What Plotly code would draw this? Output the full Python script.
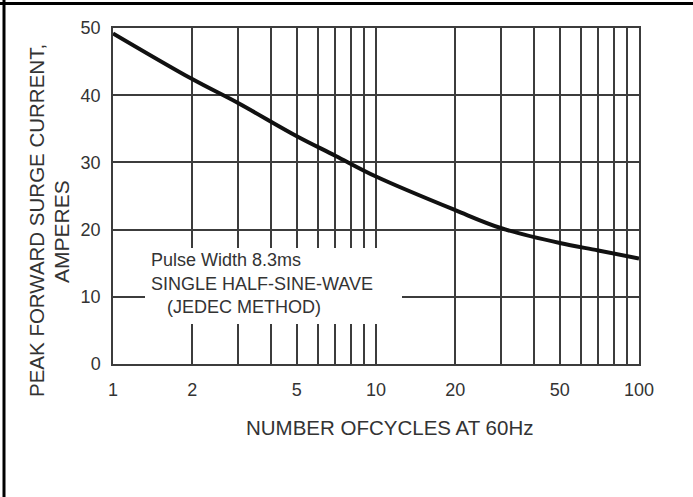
import plotly.graph_objects as go

# ---- data ----
cycles = [1, 2, 3, 5, 7, 10, 20, 30, 50, 70, 100]
current = [49.2, 42.4, 38.8, 33.9, 31.0, 27.9, 22.9, 20.2, 18.0, 16.9, 15.7]

x_grid = [1, 2, 3, 4, 5, 6, 7, 8, 9, 10, 20, 30, 40, 50, 60, 70, 80, 90, 100]
x_labels = ["1", "2", "", "", "5", "", "", "", "", "10", "20", "", "", "50", "", "", "", "", "100"]
y_ticks = [0, 10, 20, 30, 40, 50]

note_lines = ["Pulse Width 8.3ms", "SINGLE HALF-SINE-WAVE", "(JEDEC METHOD)"]
y_title_lines = ["PEAK FORWARD SURGE CURRENT,", "AMPERES"]
x_title = "NUMBER OFCYCLES AT 60Hz"

FONT = "Liberation Sans, Arial, sans-serif"
TXT = "#333333"
GRID = "#3c3c3c"

W, H = 693, 497
L, R, T, B = 113, 639, 28, 364
pw, ph = R - L, B - T


def px(x):
    return (x - L) / pw


def py(y):
    return (B - y) / ph


fig = go.Figure()
fig.add_trace(go.Scatter(x=cycles, y=current, mode="lines",
                         line=dict(color="#111111", width=4, shape="spline", smoothing=1),
                         hoverinfo="skip", showlegend=False))

fig.update_layout(
    width=W, height=H,
    margin=dict(l=L, r=W - R, t=T, b=H - B, pad=0),
    paper_bgcolor="white", plot_bgcolor="white",
    font=dict(family=FONT, size=18, color=TXT),
    xaxis=dict(type="log", range=[0, 2], tickvals=x_grid, ticktext=x_labels,
               showgrid=True, gridcolor=GRID, gridwidth=1.5,
               showline=True, linecolor=GRID, linewidth=1.5, mirror=True,
               ticks="", ticklabelstandoff=9, zeroline=False,
               tickfont=dict(size=18, color=TXT)),
    yaxis=dict(range=[0, 50], tickvals=y_ticks,
               showgrid=True, gridcolor=GRID, gridwidth=1.5,
               showline=True, linecolor=GRID, linewidth=1.5, mirror=True,
               ticks="", ticklabelstandoff=7, zeroline=False,
               tickfont=dict(size=18, color=TXT)),
)

# white box behind the note (hides the grid there)
fig.add_shape(type="rect", xref="paper", yref="paper",
              x0=px(145), x1=px(402), y0=py(324), y1=py(248),
              fillcolor="white", line=dict(width=0), layer="above")

# outer frame (top and left)
fig.add_shape(type="line", xref="paper", yref="paper",
              x0=px(0), x1=px(W + 5), y0=py(3.5), y1=py(3.5),
              line=dict(color="black", width=3))
fig.add_shape(type="line", xref="paper", yref="paper",
              x0=px(4), x1=px(4), y0=py(0), y1=py(H + 5),
              line=dict(color="black", width=3))

# note text
for txt, xx, yy in zip(note_lines, [149, 149, 165], [260, 284, 307]):
    fig.add_annotation(text=txt, xref="paper", yref="paper", x=px(xx), y=py(yy),
                       xanchor="left", yanchor="middle", showarrow=False,
                       font=dict(size=18, color=TXT, family=FONT))

# y title
for txt, xx, yy, fs in zip(y_title_lines, [36, 61], [221, 232], [20.5, 21]):
    fig.add_annotation(text=txt, xref="paper", yref="paper", x=px(xx), y=py(yy),
                       xanchor="center", yanchor="middle", textangle=-90, showarrow=False,
                       font=dict(size=fs, color=TXT, family=FONT))

# x title
fig.add_annotation(text=x_title, xref="paper", yref="paper", x=px(389), y=py(427),
                   xanchor="center", yanchor="middle", showarrow=False,
                   font=dict(size=20.5, color=TXT, family=FONT))

fig.write_html("out.html", config={"displayModeBar": False},
               post_script="document.body.style.margin='0';")
